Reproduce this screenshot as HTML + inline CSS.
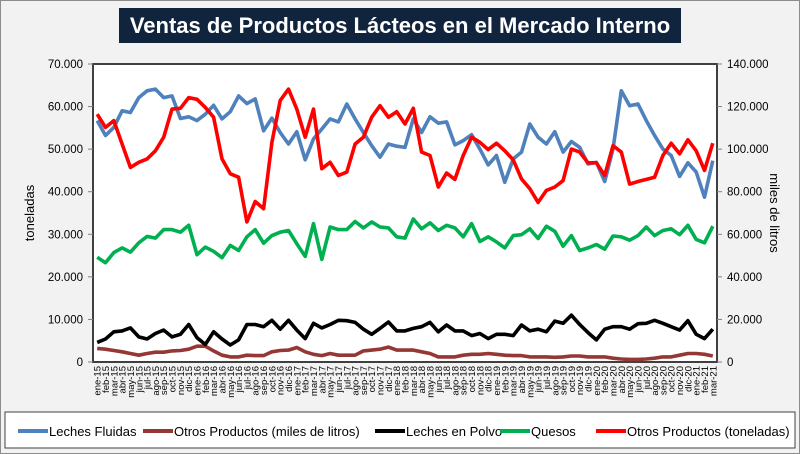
<!DOCTYPE html>
<html><head><meta charset="utf-8"><style>
html,body{margin:0;padding:0;background:#f2f2f2;}
body{width:800px;height:454px;overflow:hidden;position:relative;font-family:"Liberation Sans",sans-serif;}
</style></head><body>
<svg id="chart" width="800" height="454" xmlns="http://www.w3.org/2000/svg" style="position:absolute;left:0;top:0">
<rect x="0.5" y="0.5" width="799" height="453" fill="#f2f2f2" stroke="#8c8c8c"/>
<rect x="119" y="8" width="562" height="35" fill="#10243e"/>
<text x="400" y="33" text-anchor="middle" font-size="22" font-weight="bold" fill="#fff" font-family="Liberation Sans Narrow, Liberation Sans, sans-serif">Ventas de Productos Lácteos en el Mercado Interno</text>
<rect x="93" y="64" width="624" height="298" fill="#fff" stroke="#404040" stroke-width="2"/>
<g id="yleft"></g><g id="yright"></g><g id="xlab"></g><g id="series"></g>
<text transform="translate(34,213) rotate(-90)" text-anchor="middle" font-size="13">toneladas</text>
<text transform="translate(770,213) rotate(90)" text-anchor="middle" font-size="13">miles de litros</text>
<rect x="5" y="412" width="790" height="36" fill="#fff" stroke="#404040"/>
<g id="legend"></g>
</svg>
<script>
const months=["ene","feb","mar","abr","may","jun","jul","ago","sep","oct","nov","dic"];
const categories=[];for(let y=15;y<=21;y++)for(let m=0;m<12;m++){if(y===21&&m>2)break;categories.push(months[m]+"-"+y);}
const lechesFluidas=[56.7,53.2,55.1,59.0,58.6,62.1,63.7,64.1,62.1,62.5,57.2,57.6,56.7,58.2,60.3,57.1,58.8,62.5,60.7,61.8,54.3,57.3,53.9,51.2,54.1,47.5,52.4,54.7,57.1,56.4,60.6,57.1,53.9,50.8,48.1,51.2,50.7,50.4,57.1,53.9,57.6,56.1,56.4,51.0,52.0,53.4,50.0,46.3,48.5,42.2,47.7,49.3,55.9,52.8,51.2,54.1,49.3,51.8,50.4,46.5,46.9,42.4,50.0,63.7,60.2,60.6,56.7,53.2,50.0,48.5,43.6,46.8,44.6,38.7,47.3];
const otrosToneladas=[58.2,55.1,56.7,51.2,45.7,46.9,47.7,49.6,52.8,59.4,59.6,62.1,61.7,59.8,57.5,47.7,44.2,43.4,32.9,37.7,36.0,51.6,61.4,64.1,59.4,52.8,59.4,45.4,46.9,43.8,44.6,51.2,52.8,57.5,60.2,57.5,58.8,55.9,59.6,49.3,48.5,41.1,44.4,42.9,48.5,52.8,51.6,49.9,51.4,49.6,47.5,43.0,40.7,37.5,40.3,41.1,42.6,50.0,49.3,46.8,46.8,43.8,50.8,49.3,41.8,42.4,42.9,43.4,48.5,51.4,48.9,52.2,49.6,45.0,51.4];
const quesos=[24.6,23.3,25.7,26.8,25.8,28.0,29.5,29.1,31.1,31.1,30.5,32.1,25.2,27.0,26.0,24.5,27.4,26.2,29.4,31.1,27.9,29.7,30.5,30.9,27.8,24.8,32.5,24.1,31.7,31.1,31.1,33.0,31.5,32.9,31.7,31.5,29.4,29.1,33.6,31.3,32.7,30.9,32.1,31.5,29.4,32.5,28.3,29.4,28.2,26.8,29.7,29.9,31.3,29.0,31.9,30.7,27.2,29.7,26.2,26.8,27.6,26.5,29.6,29.4,28.6,29.7,31.7,29.7,30.9,31.3,29.9,32.1,28.8,28.0,31.9];
const lechesPolvo=[4.6,5.4,7.1,7.3,8.0,5.9,5.4,6.7,7.5,5.9,6.5,8.8,5.7,4.1,7.1,5.4,4.0,5.2,8.8,8.8,8.3,9.8,7.7,9.8,7.5,5.5,9.1,8.0,8.8,9.8,9.7,9.3,7.7,6.5,7.9,9.4,7.3,7.3,7.9,8.3,9.3,7.1,8.7,7.3,7.3,6.2,6.7,5.5,6.5,6.5,6.2,8.7,7.3,7.7,7.1,9.6,9.1,11.0,8.8,6.9,5.2,7.7,8.3,8.3,7.7,9.0,9.1,9.8,9.1,8.3,7.5,9.7,6.5,5.5,7.7];
const otrosLitros=[6.4,6.0,5.4,4.8,4.0,3.2,4.0,4.6,4.6,5.2,5.4,6.0,7.4,7.4,5.2,3.2,2.4,2.4,3.2,3.0,3.0,4.8,5.4,5.6,6.8,4.8,3.6,3.0,4.0,3.2,3.2,3.2,5.2,5.6,6.0,7.0,5.6,5.6,5.6,4.8,4.0,2.4,2.4,2.4,3.2,3.6,3.6,4.0,3.6,3.2,3.0,3.0,2.4,2.4,2.4,2.2,2.4,2.8,2.8,2.4,2.4,2.4,1.8,1.4,1.2,1.2,1.4,1.8,2.4,2.4,3.2,4.0,4.0,3.6,2.8];
const leftTicks=["0","10.000","20.000","30.000","40.000","50.000","60.000","70.000"];
const rightTicks=["0","20.000","40.000","60.000","80.000","100.000","120.000","140.000"];
const legendLabels=["Leches Fluidas","Otros Productos (miles de litros)","Leches en Polvo","Quesos","Otros Productos (toneladas)"];

const NS="http://www.w3.org/2000/svg";
const X0=93,W=624,Y0=362,H=298;
const xPos=i=>X0+W/categories.length*(i+0.5);
const yLeft=v=>Y0-v/70*H;
const yRight=v=>Y0-v/140*H;
function mk(tag,attrs,parent,text){const e=document.createElementNS(NS,tag);for(const k in attrs)e.setAttribute(k,attrs[k]);if(text!==undefined)e.textContent=text;parent.appendChild(e);return e;}
const gl=document.getElementById('yleft'),gr=document.getElementById('yright'),gx=document.getElementById('xlab'),gs=document.getElementById('series'),gleg=document.getElementById('legend');
leftTicks.forEach((t,i)=>{const y=yLeft(i*10);
const tk=mk('line',{x1:88,x2:93,y1:y,y2:y,stroke:'#808080'},gl);


const e=mk('text',{x:83,y:y+4,'text-anchor':'end','font-size':11.5},gl,t);

});
rightTicks.forEach((t,i)=>{const y=yRight(i*20);
const tk=mk('line',{x1:717,x2:722,y1:y,y2:y,stroke:'#808080'},gr);


const e=mk('text',{x:727,y:y+4,'font-size':11.5},gr,t);

});
categories.forEach((c,i)=>{const x=xPos(i);
const e=mk('text',{transform:`translate(${x+3.5},366) rotate(-90)`,'text-anchor':'end','font-size':9.5},gx,c);

});
const series=[
 {d:otrosLitros,c:'#953735',y:yRight,n:'series-otros-productos-litros'},
 {d:lechesPolvo,c:'#000000',y:yLeft,n:'series-leches-en-polvo'},
 {d:quesos,c:'#00b050',y:yLeft,n:'series-quesos'},
 {d:lechesFluidas,c:'#4f81bd',y:yLeft,n:'series-leches-fluidas'},
 {d:otrosToneladas,c:'#ff0000',y:yLeft,n:'series-otros-productos-toneladas'}];
series.forEach(s=>{const pts=s.d.map((v,i)=>xPos(i).toFixed(1)+","+s.y(v).toFixed(1)).join(" ");
const p=mk('polyline',{points:pts,fill:'none',stroke:s.c,'stroke-width':3.6,'stroke-linejoin':'round'},gs);

});
const legColors=['#4f81bd','#953735','#000000','#00b050','#ff0000'];
const legX=[18,143,375,500,596];
legendLabels.forEach((l,i)=>{
const ln=mk('line',{x1:legX[i],x2:legX[i]+30,y1:431,y2:431,stroke:legColors[i],'stroke-width':4},gleg);


const t=mk('text',{x:legX[i]+31,y:436,'font-size':13},gleg,l);

});
</script>
</body></html>
